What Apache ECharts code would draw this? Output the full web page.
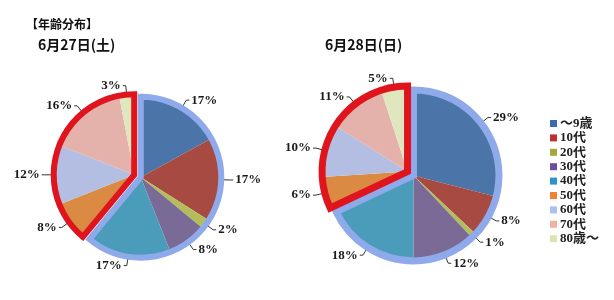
<!DOCTYPE html>
<html>
<head>
<meta charset="utf-8">
<script src="https://cdn.jsdelivr.net/npm/echarts@6/dist/echarts.min.js"></script>
<style>html,body{margin:0;padding:0;background:#fff;}#c{width:614px;height:300px;}</style>
</head>
<body>
<div id="c"></div>
<script>
const categories = ['～9歳','10代','20代','30代','40代','50代','60代','70代','80歳～'];
const day1Values = [17,17,2,8,17,8,12,16,3];
const day2Values = [29,8,1,12,18,6,10,11,5];
const dayTitles = ['6月27日(土)','6月28日(日)'];
const mainTitle = '【年齢分布】';
const groupSplit = 5; // first group: ～9歳 … 40代, second group: 50代 … 80歳～

const sliceColors = ['#4b74a8','#a64a42','#b4bc5c','#7a6a96','#4b9cba','#da8a42','#b3bee2','#e4b2aa','#e0e6be'];
const legendColors = ['#3a6db0','#c0302e','#a8a83a','#6a509c','#3090d0','#f08232','#a9c0f0','#f0b2a2','#dfe3b2'];
const outlineColors = ['#8eaaea','#e0141c'];

const pies = [
  {values: day1Values, c: [137.5, 176], d: 3.5, r: 80.5, bw: 6},
  {values: day2Values, c: [410.5, 173.5], d: 3.5, r: 85.5, bw: 7}
];

const series = [];
pies.forEach((p, pi) => {
  const total = p.values.reduce((a, b) => a + b, 0);
  const sumA = p.values.slice(0, groupSplit).reduce((a, b) => a + b, 0);
  const sums = [sumA, total - sumA];
  const starts = [0, sumA / total * 360];
  [0, 1].forEach(g => {
    const mid = (starts[g] + sums[g] / total * 180) * Math.PI / 180;
    const center = [p.c[0] + p.d * Math.sin(mid), p.c[1] - p.d * Math.cos(mid)];
    const data = p.values.map((v, i) => {
      const inGroup = g === 0 ? i < groupSplit : i >= groupSplit;
      return inGroup ? {
        name: categories[i], value: v,
        itemStyle: {color: sliceColors[i]}
      } : {
        name: categories[i], value: v,
        itemStyle: {color: 'rgba(0,0,0,0)'},
        label: {show: false}, labelLine: {show: false}
      };
    });
    series.push({
      type: 'pie', center: center, radius: [0, p.r], startAngle: 90, clockwise: true,
      silent: true, animation: false, z: 2,
      avoidLabelOverlap: true,
      itemStyle: {borderWidth: 0},
      label: {show: true, position: 'outside', formatter: '{c}%', color: '#1a1a1a',
        fontFamily: 'Liberation Serif', fontWeight: 'bold', fontSize: 13, distanceToLabelLine: 2},
      labelLine: {show: true, length: 9, length2: 3, lineStyle: {color: '#333', width: 1}},
      data: data
    });
    series.push({
      type: 'pie', center: center, radius: [0, p.r], startAngle: 90, clockwise: true,
      silent: true, animation: false, z: 3,
      label: {show: false}, labelLine: {show: false},
      data: sums.map((s, k) => ({
        name: 'g' + k, value: s,
        itemStyle: k === g
          ? {color: 'rgba(0,0,0,0)', borderColor: outlineColors[g], borderWidth: p.bw, borderJoin: 'miter'}
          : {color: 'rgba(0,0,0,0)', borderWidth: 0}
      }))
    });
  });
});

const chart = echarts.init(document.getElementById('c'));
chart.setOption({
  backgroundColor: '#fff',
  animation: false,
  title: [
    {text: mainTitle, left: 21, top: 13, textStyle: {fontFamily: 'Noto Sans CJK JP', fontWeight: 'bold', fontSize: 12, color: '#111'}},
    {text: dayTitles[0], left: 33, top: 33, textStyle: {fontFamily: 'Noto Sans CJK JP', fontWeight: 'bold', fontSize: 14, color: '#111'}},
    {text: dayTitles[1], left: 320, top: 33, textStyle: {fontFamily: 'Noto Sans CJK JP', fontWeight: 'bold', fontSize: 14, color: '#111'}}
  ],
  legend: {
    orient: 'vertical', left: 545, top: 112,
    itemWidth: 7, itemHeight: 7, itemGap: 1.4,
    icon: 'rect',
    selectedMode: false,
    textStyle: {fontFamily: 'Liberation Serif, Noto Sans CJK JP', fontWeight: 'bold', fontSize: 13, color: '#222', lineHeight: 13, padding: [0,0,0,-2]},
    data: categories.map((n, i) => ({name: n, itemStyle: {color: legendColors[i]}}))
  },
  series: series
});
</script>
</body>
</html>
